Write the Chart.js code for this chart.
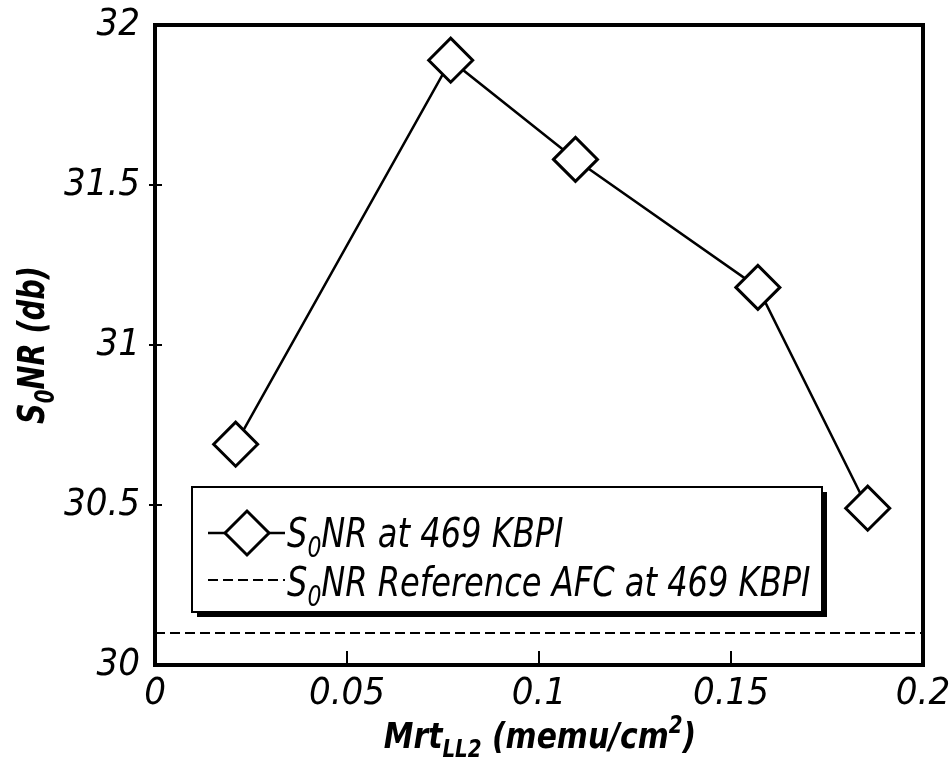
<!DOCTYPE html>
<html><head><meta charset="utf-8">
<script src="https://cdn.jsdelivr.net/npm/chart.js@4/dist/chart.umd.min.js"></script>
<style>html,body{margin:0;padding:0;background:#fff}#wrap{width:950px;height:769px;position:relative}</style>
</head><body><div id="wrap"><canvas id="c"></canvas></div>
<script>
const mrtValues = [0.021, 0.077, 0.1095, 0.157, 0.1856];
const snrValues = [30.69, 31.89, 31.58, 31.18, 30.49];
const referenceSnr = 30.1;
const xRange = [0, 0.2];
const yRange = [30, 32];
const xTickValues = [0, 0.05, 0.1, 0.15, 0.2];
const xTickLabels = ['0', '0.05', '0.1', '0.15', '0.2'];
const yTickValues = [30, 30.5, 31, 31.5, 32];
const yTickLabels = ['30', '30.5', '31', '31.5', '32'];
const seriesParts = [{t:'S'},{t:'0',sub:true},{t:'NR at 469 KBPI'}];
const refParts = [{t:'S'},{t:'0',sub:true},{t:'NR Reference AFC at 469 KBPI'}];
const xTitleParts = [{t:'Mrt'},{t:'LL2',sub:true},{t:' (memu/cm'},{t:'2',sup:true},{t:')'}];
const yTitleParts = [{t:'S'},{t:'0',sub:true},{t:'NR (db)'}];

const FAM = "'Liberation Sans Narrow','DejaVu Sans Condensed','Liberation Sans',Arial,sans-serif";

function partFont(p, size, weight) {
  const s = (p.sub || p.sup) ? Math.round(size * 0.68) : size;
  return 'italic ' + weight + ' ' + s + 'px ' + FAM;
}
function richWidth(ctx, parts, size, weight) {
  let w = 0;
  for (const p of parts) { ctx.font = partFont(p, size, weight); w += ctx.measureText(p.t).width; }
  return w;
}
function drawRich(ctx, parts, x, y, size, weight, align, sx) {
  ctx.save();
  ctx.translate(x, y);
  ctx.scale(sx || 1, 1);
  ctx.textBaseline = 'alphabetic';
  ctx.textAlign = 'left';
  ctx.fillStyle = '#000';
  let cx = 0;
  if (align === 'center') cx = -richWidth(ctx, parts, size, weight) / 2;
  for (const p of parts) {
    ctx.font = partFont(p, size, weight);
    let dy = 0;
    if (p.sub) dy = size * 0.25;
    if (p.sup) dy = -size * 0.42;
    ctx.fillText(p.t, cx, dy);
    cx += ctx.measureText(p.t).width;
  }
  ctx.restore();
}
function diamond(ctx, x, y, r) {
  ctx.beginPath();
  ctx.moveTo(x - r, y); ctx.lineTo(x, y - r); ctx.lineTo(x + r, y); ctx.lineTo(x, y + r); ctx.closePath();
  ctx.fillStyle = '#fff'; ctx.fill();
  ctx.lineWidth = 3; ctx.strokeStyle = '#000'; ctx.stroke();
}

const decor = {
  id: 'decor',
  afterDraw(chart) {
    const ctx = chart.ctx, a = chart.chartArea;
    const xs = chart.scales.x, ys = chart.scales.y;
    ctx.save();
    ctx.strokeStyle = '#000'; ctx.lineWidth = 2;
    for (let i = 1; i < xTickValues.length - 1; i++) {
      const px = xs.getPixelForValue(xTickValues[i]);
      ctx.beginPath(); ctx.moveTo(px, a.bottom); ctx.lineTo(px, a.bottom - 14); ctx.stroke();
    }
    for (let i = 1; i < yTickValues.length - 1; i++) {
      const py = ys.getPixelForValue(yTickValues[i]);
      ctx.beginPath(); ctx.moveTo(a.left - 6, py); ctx.lineTo(a.left + 7, py); ctx.stroke();
    }
    ctx.lineWidth = 4;
    ctx.strokeRect(a.left, a.top, a.right - a.left, a.bottom - a.top);
    // legend
    const lx = 192, ly = 487, lw = 630, lh = 125;
    ctx.fillStyle = '#000';
    ctx.fillRect(lx + 5, ly + 5, lw, lh);
    ctx.fillStyle = '#fff';
    ctx.fillRect(lx, ly, lw, lh);
    ctx.lineWidth = 2; ctx.strokeStyle = '#000';
    ctx.strokeRect(lx, ly, lw, lh);
    ctx.lineWidth = 2.5;
    ctx.beginPath(); ctx.moveTo(208, 533); ctx.lineTo(285, 533); ctx.stroke();
    diamond(ctx, 247, 533, 22);
    ctx.setLineDash([10, 5]); ctx.lineWidth = 2;
    ctx.beginPath(); ctx.moveTo(208, 580); ctx.lineTo(285, 580); ctx.stroke();
    ctx.setLineDash([]);
    drawRich(ctx, seriesParts, 287, 547, 41, 'normal', 'left', 0.87);
    drawRich(ctx, refParts, 287, 596, 41, 'normal', 'left', 0.87);
    drawRich(ctx, xTitleParts, 540, 748, 36, 'bold', 'center', 0.92);
    ctx.save();
    ctx.translate(44, 345); ctx.rotate(-Math.PI / 2);
    drawRich(ctx, yTitleParts, 0, 0, 38, 'bold', 'center', 0.84);
    ctx.restore();
    ctx.restore();
  }
};

new Chart(document.getElementById('c'), {
  type: 'scatter',
  data: {
    datasets: [
      {
        label: 'S0NR at 469 KBPI',
        data: mrtValues.map((x, i) => ({x: x, y: snrValues[i]})),
        showLine: true,
        borderColor: '#000', borderWidth: 2.5,
        pointStyle: 'rectRot', pointRadius: 22, pointHoverRadius: 22,
        pointBackgroundColor: '#fff', pointBorderColor: '#000', pointBorderWidth: 3,
        order: 0
      },
      {
        label: 'S0NR Reference AFC at 469 KBPI',
        data: [{x: xRange[0], y: referenceSnr}, {x: xRange[1], y: referenceSnr}],
        showLine: true,
        borderColor: '#000', borderWidth: 2, borderDash: [10, 5],
        pointRadius: 0, pointHoverRadius: 0,
        order: 1
      }
    ]
  },
  options: {
    responsive: true, maintainAspectRatio: false, animation: false,
    layout: {padding: {top: 25, right: 27, left: 0, bottom: 0}},
    plugins: {legend: {display: false}, tooltip: {enabled: false}},
    events: [],
    scales: {
      x: {
        type: 'linear', min: xRange[0], max: xRange[1],
        afterBuildTicks: s => { s.ticks = xTickValues.map(v => ({value: v})); },
        afterFit: s => { s.height = 104; s.paddingLeft = 0; s.paddingRight = 0; },
        grid: {display: false, drawTicks: false},
        border: {display: false},
        ticks: {
          color: '#000', padding: 6, maxRotation: 0, autoSkip: false,
          font: {family: FAM, size: 38, style: 'italic'},
          callback: (v, i) => xTickLabels[i]
        }
      },
      y: {
        type: 'linear', min: yRange[0], max: yRange[1],
        afterBuildTicks: s => { s.ticks = yTickValues.map(v => ({value: v})); },
        afterFit: s => { s.width = 155; s.paddingTop = 0; s.paddingBottom = 0; },
        grid: {display: false, drawTicks: false},
        border: {display: false},
        ticks: {
          color: '#000', padding: 15, autoSkip: false,
          font: {family: FAM, size: 38, style: 'italic'},
          callback: (v, i) => yTickLabels[i]
        }
      }
    }
  },
  plugins: [decor]
});
</script>
</body></html>
